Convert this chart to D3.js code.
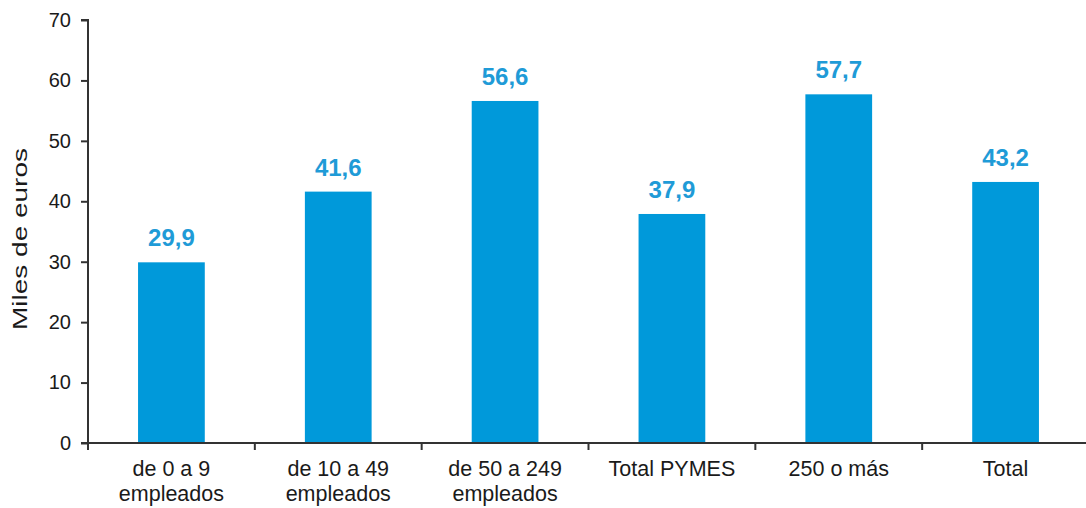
<!DOCTYPE html>
<html>
<head>
<meta charset="utf-8">
<script src="https://cdn.jsdelivr.net/npm/d3@7"></script>
<style>
  html, body { margin: 0; padding: 0; background: #fff; }
  svg { display: block; font-family: "Liberation Sans", Arial, sans-serif; }
</style>
</head>
<body>
<svg id="chart" width="1086" height="508"></svg>
<script>
// Productividad media por tamaño de empresa (miles de euros)
const categories = [
  ["de 0 a 9", "empleados"],
  ["de 10 a 49", "empleados"],
  ["de 50 a 249", "empleados"],
  ["Total PYMES"],
  ["250 o más"],
  ["Total"]
];
const values = [29.9, 41.6, 56.6, 37.9, 57.7, 43.2];
const valueLabels = ["29,9", "41,6", "56,6", "37,9", "57,7", "43,2"];
const yTicks = [0, 10, 20, 30, 40, 50, 60, 70];
const yTitle = "Miles de euros";

const svg = d3.select("#chart");
const plotLeft = 88, plotRight = 1089, plotTop = 20, plotBottom = 443;

const x = d3.scaleBand()
  .domain(d3.range(categories.length))
  .range([plotLeft, plotRight])
  .paddingInner(0.6)
  .paddingOuter(0.3);

const xCat = d3.scaleBand()
  .domain(d3.range(categories.length))
  .range([plotLeft, plotRight])
  .padding(0);

const y = d3.scaleLinear().domain([0, 70]).range([plotBottom, plotTop]);

const axisColor = "#333";
const textColor = "#1a1a1a";

// Bars
svg.append("g").selectAll("rect")
  .data(values)
  .join("rect")
  .attr("x", (d, i) => x(i))
  .attr("width", x.bandwidth())
  .attr("y", d => y(d))
  .attr("height", d => y(0) - y(d))
  .attr("fill", "#0099da");

// Value labels
svg.append("g").selectAll("text")
  .data(values)
  .join("text")
  .attr("x", (d, i) => x(i) + x.bandwidth() / 2)
  .attr("y", d => y(d) - 16)
  .attr("text-anchor", "middle")
  .attr("font-size", 24)
  .attr("font-weight", "bold")
  .attr("fill", "#1f9bd7")
  .text((d, i) => valueLabels[i]);

// Y axis
const yAxis = d3.axisLeft(y).tickValues(yTicks).tickSize(7).tickPadding(10).tickFormat(d3.format("d"));
const gy = svg.append("g").attr("transform", `translate(${plotLeft},0)`).call(yAxis);
gy.select(".domain").attr("stroke", axisColor).attr("stroke-width", 2).attr("d", `M-7,${plotTop}H0V${plotBottom}`);
gy.selectAll(".tick line").attr("stroke", axisColor).attr("stroke-width", 2);
gy.selectAll(".tick text").attr("font-size", 20).attr("fill", textColor)
  .attr("font-family", "Liberation Sans, Arial, sans-serif");

// X axis (category boundaries as ticks)
const gx = svg.append("g").attr("transform", `translate(0,${plotBottom})`);
gx.append("line").attr("x1", plotLeft - 7).attr("x2", plotRight).attr("stroke", axisColor).attr("stroke-width", 2);
gx.selectAll("line.tk")
  .data(d3.range(categories.length + 1))
  .join("line")
  .attr("class", "tk")
  .attr("x1", i => plotLeft + i * xCat.step())
  .attr("x2", i => plotLeft + i * xCat.step())
  .attr("y1", 0).attr("y2", 7)
  .attr("stroke", axisColor).attr("stroke-width", 2);

// Category labels
const cl = svg.append("g").selectAll("text")
  .data(categories)
  .join("text")
  .attr("text-anchor", "middle")
  .attr("font-size", 21.5)
  .attr("fill", textColor);
cl.each(function(lines, i) {
  const t = d3.select(this);
  lines.forEach((s, k) => {
    t.append("tspan")
      .attr("x", xCat(i) + xCat.bandwidth() / 2)
      .attr("y", plotBottom + 33 + k * 24.5)
      .text(s);
  });
});

// Y axis title (glyphs stretched along the baseline)
svg.append("text")
  .attr("transform", `translate(27,239) rotate(-90)`)
  .attr("text-anchor", "middle")
  .attr("font-size", 21)
  .attr("textLength", 182)
  .attr("lengthAdjust", "spacingAndGlyphs")
  .attr("fill", textColor)
  .text(yTitle);
</script>
</body>
</html>
